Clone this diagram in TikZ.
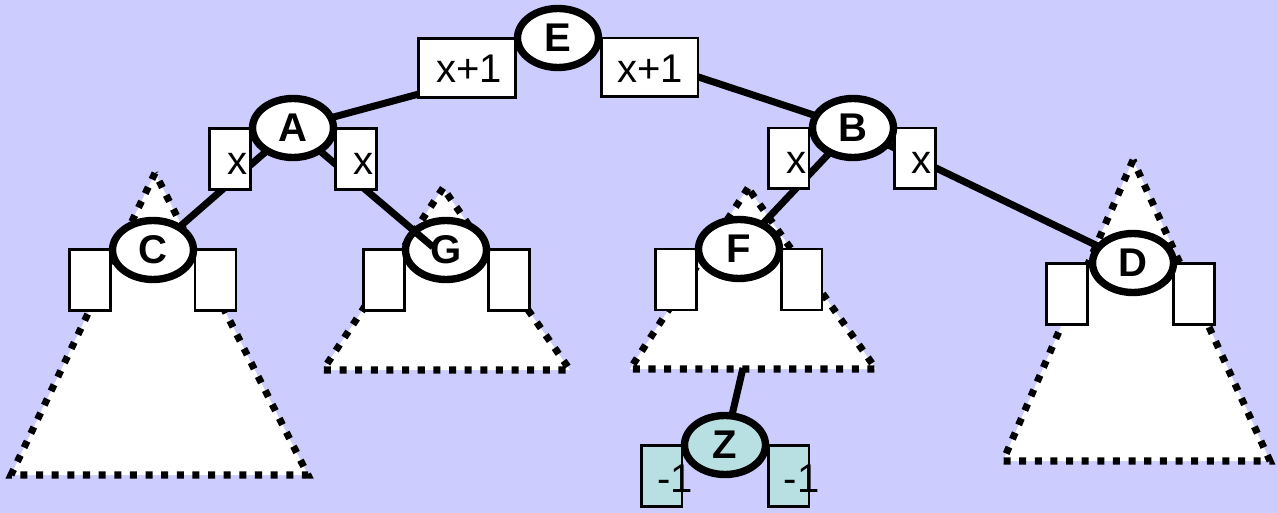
\documentclass[tikz,border=0pt]{standalone}
\usepackage{fontspec}
\setmainfont{Liberation Sans}
\usepackage{xcolor}
\usepackage{tikz}
\usetikzlibrary{shapes.geometric}
\definecolor{bgblue}{RGB}{204,204,255}
\definecolor{zteal}{RGB}{184,224,226}
\pgfdeclarelayer{tri}
\pgfdeclarelayer{edge}
\pgfdeclarelayer{low}
\pgfdeclarelayer{edgetop}
\pgfsetlayers{tri,edge,low,edgetop,main}
\tikzset{
  vert/.style={ellipse,draw,line width=4.2pt,fill=white,minimum width=1.62cm,minimum height=1.18cm,inner sep=0pt,font=\bfseries\fontsize{22.8}{27}\selectfont},
  zvert/.style={vert,fill=zteal},
  valbox/.style={rectangle,draw,line width=1.7pt,fill=white,inner sep=0pt,minimum width=0.82cm,minimum height=1.22cm},
  widebox/.style={valbox,minimum width=1.94cm,minimum height=1.18cm},
  zbox/.style={valbox,fill=zteal},
  lbl/.style={inner sep=0pt,anchor=base,font=\fontsize{22.8}{27}\selectfont},
  edge/.style={line width=4pt},
  subtree/.style={draw,fill=white,line width=4pt,dash pattern=on 4pt off 4.9pt}
}
\begin{document}
\begin{tikzpicture}[x=0.02cm,y=-0.02cm]
\begin{pgfonlayer}{tri}
\fill[bgblue] (0,0) rectangle (1278,513);
\draw[subtree] (155,173) -- (11,475) -- (308,475) -- cycle;
\draw[subtree] (443,188) -- (323,370) -- (570,370) -- cycle;
\draw[subtree] (748,188) -- (630,369) -- (876,369) -- cycle;
\draw[subtree] (1133,160) -- (1003,461) -- (1270,461) -- cycle;
\end{pgfonlayer}
\useasboundingbox (0,0) rectangle (1278,513);

\coordinate (ea) at (467,81);
\coordinate (eb) at (650,61);
\coordinate (gend) at (433,247);
\coordinate (fbase) at (743,368);

\node[widebox] (xl1) at (467,68) {};
\node[widebox] (xr1) at (649.5,67.5) {};
\node[lbl] (txl1) at (469,83) {x+1};
\node[lbl] (txr1) at (650,83) {x+1};
\node[vert] (E) at (558,38) {E};

\node[valbox] (al) at (230,159) {};
\node[valbox] (ar) at (356,159) {};
\node[lbl] (tal) at (238,175) {x};
\node[lbl] (tar) at (364,175) {x};
\node[vert] (A) at (293,128) {A};

\node[valbox] (bl) at (788.5,158.5) {};
\node[valbox] (br) at (914.5,158.5) {};
\node[lbl] (tbl) at (797,174) {x};
\node[lbl] (tbr) at (922,174) {x};
\node[vert] (B) at (853,128) {B};

\begin{pgfonlayer}{low}
\node[valbox] (cl) at (90,280) {};
\node[valbox] (cr) at (215.5,280) {};
\node[vert] (C) at (153,250) {C};
\node[valbox] (gl) at (384,280) {};
\node[valbox] (gr) at (509,280) {};
\node[vert] (G) at (446,250) {G};
\node[valbox] (fl) at (676,279.5) {};
\node[valbox] (fr) at (801.5,279.5) {};
\node[vert] (F) at (739,249) {F};
\node[valbox] (dl) at (1067,294) {};
\node[valbox] (dr) at (1193.5,294) {};
\node[vert] (D) at (1133,263) {D};
\node[zbox] (zl) at (661.5,476) {};
\node[zbox] (zr) at (788.5,476) {};
\node[zvert] (Z) at (725,445) {Z};
\node[lbl] (tzl) at (675,492) {-1};
\node[lbl] (tzr) at (801.5,492) {-1};
\end{pgfonlayer}

\begin{pgfonlayer}{edge}
\draw[edge] (A.center) -- (ea);
\draw[edge] (B.center) -- (eb);
\draw[edge] (A.center) -- (C.center);
\draw[edge] (B.center) -- (F.center);
\draw[edge] (B.center) -- (D.center);
\draw[edge] (fbase) -- (Z.center);
\end{pgfonlayer}
\begin{pgfonlayer}{edgetop}
\draw[edge] (A.center) -- (gend);
\end{pgfonlayer}
\end{tikzpicture}
\end{document}
